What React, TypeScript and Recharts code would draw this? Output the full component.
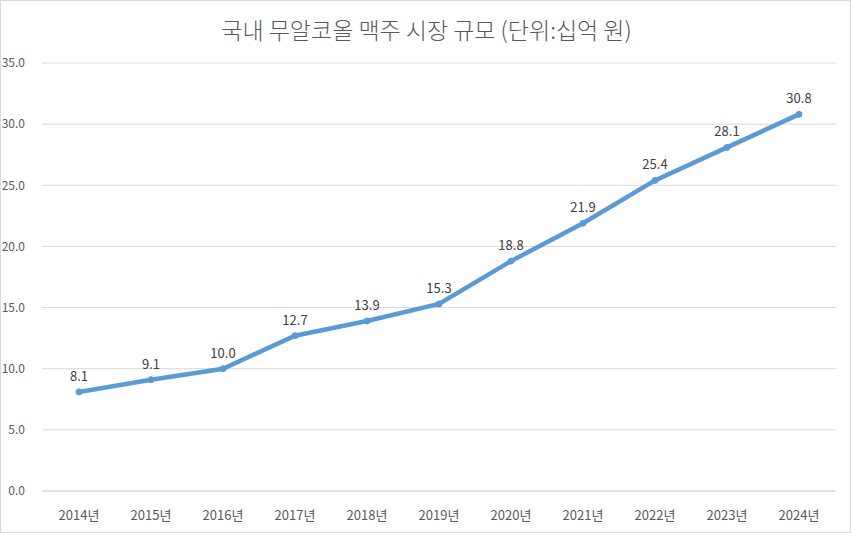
import { LineChart, Line, XAxis, YAxis, CartesianGrid, LabelList } from 'recharts';

const years = ['2014년', '2015년', '2016년', '2017년', '2018년', '2019년', '2020년', '2021년', '2022년', '2023년', '2024년'];
const marketSize = [8.1, 9.1, 10.0, 12.7, 13.9, 15.3, 18.8, 21.9, 25.4, 28.1, 30.8];
const yTicks = [0, 5, 10, 15, 20, 25, 30, 35];

const data = years.map((year, i) => ({ year, value: marketSize[i] }));

const FONT = '"Noto Sans CJK KR", "Noto Sans", sans-serif';

export default function App() {
  return (
    <div
      style={{
        position: 'absolute',
        left: 0,
        top: 0,
        width: 851,
        height: 533,
        boxSizing: 'border-box',
        border: '1px solid #d9d9d9',
        background: '#fff',
        fontFamily: FONT,
      }}
    >
      <div
        style={{
          position: 'absolute',
          top: 11,
          left: 0,
          width: 851,
          textAlign: 'center',
          fontSize: 23,
          fontWeight: 300,
          color: '#595959',
        }}
      >
        국내 무알코올 맥주 시장 규모 (단위:십억 원)
      </div>
      <LineChart
        width={849}
        height={531}
        data={data}
        margin={{ top: 62, right: 14, left: 0, bottom: 0 }}
        style={{ position: 'absolute', left: 0, top: 0 }}
      >
        <CartesianGrid vertical={false} stroke="#d9d9d9" />
        <XAxis
          dataKey="year"
          height={41}
          padding={{ left: 37, right: 37 }}
          axisLine={{ stroke: '#d9d9d9' }}
          tickLine={false}
          tickMargin={14}
          tick={{ fontSize: 13, fill: '#595959', fontFamily: FONT }}
        />
        <YAxis
          width={41}
          domain={[0, 35]}
          ticks={yTicks}
          axisLine={false}
          tickLine={false}
          tickMargin={11}
          tickFormatter={(v: number) => v.toFixed(1)}
          tick={{ fontSize: 12, fill: '#595959', fontFamily: FONT }}
        />
        <Line
          type="linear"
          dataKey="value"
          stroke="#5b9bd5"
          strokeWidth={4.5}
          dot={{ r: 3, fill: '#5b9bd5', stroke: '#5b9bd5', strokeWidth: 1 }}
          isAnimationActive={false}
        >
          <LabelList
            dataKey="value"
            position="top"
            offset={11}
            formatter={(v: number) => v.toFixed(1)}
            style={{ fontSize: 13, fill: '#404040', fontFamily: FONT }}
          />
        </Line>
      </LineChart>
    </div>
  );
}
